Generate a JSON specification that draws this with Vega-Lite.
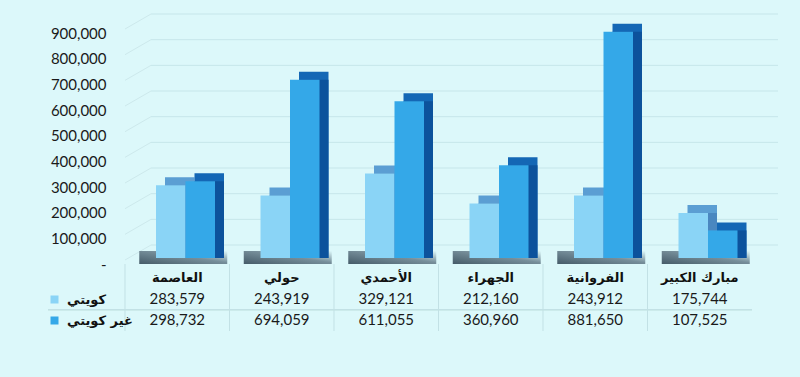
{
  "$schema": "https://vega.github.io/schema/vega-lite/v6.json",
  "background": "#dcf8fa",
  "padding": {"left": 47, "top": 13, "right": 23, "bottom": 46},
  "bounds": "flush",
  "spacing": 9,
  "config": {
    "view": {"stroke": null},
    "font": "Lato",
    "axisY": {"domain": false, "ticks": false, "grid": false, "title": null,
              "labelOverlap": false, "labelBound": false, "tickCount": 10,
              "labelPadding": 19, "labelOffset": 6, "labelFontSize": 15, "labelColor": "#1a1a1a",
              "labelFont": "Lato"}
  },
  "datasets": {
    "pop": [
      {"region": "العاصمة", "series": "كويتي", "value": 283579},
      {"region": "العاصمة", "series": "غير كويتي", "value": 298732},
      {"region": "حولي", "series": "كويتي", "value": 243919},
      {"region": "حولي", "series": "غير كويتي", "value": 694059},
      {"region": "الأحمدي", "series": "كويتي", "value": 329121},
      {"region": "الأحمدي", "series": "غير كويتي", "value": 611055},
      {"region": "الجهراء", "series": "كويتي", "value": 212160},
      {"region": "الجهراء", "series": "غير كويتي", "value": 360960},
      {"region": "الفروانية", "series": "كويتي", "value": 243912},
      {"region": "الفروانية", "series": "غير كويتي", "value": 881650},
      {"region": "مبارك الكبير", "series": "كويتي", "value": 175744},
      {"region": "مبارك الكبير", "series": "غير كويتي", "value": 107525}
    ],
    "ticks": [
      {"tick": 0}, {"tick": 100000}, {"tick": 200000}, {"tick": 300000}, {"tick": 400000},
      {"tick": 500000}, {"tick": 600000}, {"tick": 700000}, {"tick": 800000}, {"tick": 900000}
    ]
  },
  "vconcat": [
    {
      "width": 627,
      "height": 231,
      "data": {"name": "pop"},
      "encoding": {
        "x": {"field": "region", "type": "nominal", "axis": null,
              "scale": {"domain": ["العاصمة", "حولي", "الأحمدي", "الجهراء", "الفروانية", "مبارك الكبير"],
                        "paddingInner": 0, "paddingOuter": 0}}
      },
      "layer": [
        {
          "data": {"name": "ticks"},
          "mark": {"type": "rule", "color": "#c6e6ea", "strokeWidth": 1, "xOffset": 26, "x2Offset": 26, "yOffset": -13},
          "encoding": {
            "x": {"datum": "العاصمة", "bandPosition": 0},
            "x2": {"datum": "مبارك الكبير", "bandPosition": 1},
            "y": {"field": "tick", "type": "quantitative",
                  "scale": {"domain": [0, 900000], "nice": false},
                  "axis": {"labelExpr": "datum.value === 0 ? '-' : datum.label"}}
          }
        },
        {
          "data": {"name": "ticks"},
          "mark": {"type": "rule", "color": "#cde9ec", "strokeWidth": 1, "xOffset": 0, "x2Offset": 26, "yOffset": 2, "y2Offset": -13},
          "encoding": {
            "x": {"datum": "العاصمة", "bandPosition": 0},
            "x2": {"datum": "العاصمة", "bandPosition": 0},
            "y": {"field": "tick", "type": "quantitative",
                  "axis": {"labelExpr": "datum.value === 0 ? '-' : datum.label"}},
            "y2": {"field": "tick"}
          }
        },
        {
          "transform": [{"filter": "datum.series === 'كويتي'"}],
          "mark": {"type": "bar", "width": 88, "xOffset": 6, "yOffset": -7, "y2Offset": 6,
                   "color": {"gradient": "linear", "x1": 0, "y1": 1, "x2": 1, "y2": 0,
                             "stops": [{"offset": 0, "color": "#1f3444"}, {"offset": 0.55, "color": "#5d7482"}, {"offset": 1, "color": "#dcf8fa"}]},
                   "opacity": 0.8},
          "encoding": {
            "y": {"datum": 0, "type": "quantitative"},
            "y2": {"datum": 0}
          }
        },
        {
          "transform": [{"filter": "datum.series === 'كويتي'"}],
          "mark": {"type": "bar", "width": 29.5, "xOffset": 2.5, "yOffset": -8, "y2Offset": -8, "color": "#5b9ed3"},
          "encoding": {
            "y": {"field": "value", "type": "quantitative", "stack": null,
                  "axis": {"labelExpr": "datum.value === 0 ? '-' : datum.label"}}
          }
        },
        {
          "transform": [{"filter": "datum.series === 'كويتي'"}],
          "mark": {"type": "bar", "width": 29.5, "xOffset": 2.5, "y2Offset": -8, "color": "#4a87c0"},
          "encoding": {
            "y": {"field": "value", "type": "quantitative", "stack": null,
                  "axis": {"labelExpr": "datum.value === 0 ? '-' : datum.label"}}
          }
        },
        {
          "transform": [{"filter": "datum.series === 'غير كويتي'"}],
          "mark": {"type": "bar", "width": 29.5, "xOffset": 32, "yOffset": -8, "y2Offset": -8, "color": "#1467b5"},
          "encoding": {
            "y": {"field": "value", "type": "quantitative", "stack": null,
                  "axis": {"labelExpr": "datum.value === 0 ? '-' : datum.label"}}
          }
        },
        {
          "transform": [{"filter": "datum.series === 'غير كويتي'"}],
          "mark": {"type": "bar", "width": 29.5, "xOffset": 32, "y2Offset": -8, "color": "#0c529c"},
          "encoding": {
            "y": {"field": "value", "type": "quantitative", "stack": null,
                  "axis": {"labelExpr": "datum.value === 0 ? '-' : datum.label"}}
          }
        },
        {
          "mark": {"type": "bar", "width": 29.5, "xOffset": {"expr": "datum.series === 'كويتي' ? -6.5 : 23"}},
          "encoding": {
            "y": {"field": "value", "type": "quantitative", "stack": null,
                  "axis": {"labelExpr": "datum.value === 0 ? '-' : datum.label"}},
            "color": {"field": "series", "type": "nominal",
                      "scale": {"domain": ["كويتي", "غير كويتي"], "range": ["#8ad4f6", "#34a8e8"]},
                      "legend": {"orient": "none", "legendX": -77, "legendY": 266, "title": null,
                                 "direction": "vertical", "symbolType": "square", "symbolSize": 64,
                                 "symbolStrokeWidth": 0, "labelFont": "DejaVu Sans", "labelFontSize": 13,
                                 "labelFontWeight": "bold", "labelColor": "#111111", "labelOffset": 6,
                                 "rowPadding": 7}}
          }
        }
      ]
    },
    {
      "width": 627,
      "height": 64,
      "data": {"name": "pop"},
      "encoding": {
        "x": {"field": "region", "type": "nominal", "axis": null,
              "scale": {"domain": ["العاصمة", "حولي", "الأحمدي", "الجهراء", "الفروانية", "مبارك الكبير"],
                        "paddingInner": 0, "paddingOuter": 0}}
      },
      "layer": [
        {
          "transform": [{"filter": "datum.series === 'كويتي'"}],
          "mark": {"type": "rule", "color": "#c2e1e5", "strokeWidth": 1, "yOffset": -3, "y2Offset": 3},
          "encoding": {
            "x": {"field": "region", "type": "nominal", "bandPosition": 0}
          }
        },
        {
          "transform": [{"filter": "datum.series === 'كويتي'"}],
          "mark": {"type": "rule", "color": "#c2e1e5", "strokeWidth": 1, "xOffset": -77},
          "encoding": {
            "x": {"datum": "العاصمة", "bandPosition": 0},
            "x2": {"datum": "مبارك الكبير", "bandPosition": 1},
            "y": {"datum": "غير كويتي", "type": "nominal", "bandPosition": 0,
                  "scale": {"domain": ["h", "كويتي", "غير كويتي"], "paddingInner": 0, "paddingOuter": 0},
                  "axis": null}
          }
        },
        {
          "transform": [{"filter": "datum.series === 'كويتي'"}],
          "mark": {"type": "text", "font": "DejaVu Sans", "fontSize": 13, "fontWeight": "bold", "color": "#111111"},
          "encoding": {
            "y": {"datum": "h", "type": "nominal"},
            "text": {"field": "region"}
          }
        },
        {
          "mark": {"type": "text", "font": "Lato", "fontSize": 15, "color": "#1a1a1a"},
          "encoding": {
            "y": {"field": "series", "type": "nominal"},
            "text": {"field": "value", "type": "quantitative", "format": ","}
          }
        }
      ]
    }
  ]
}
